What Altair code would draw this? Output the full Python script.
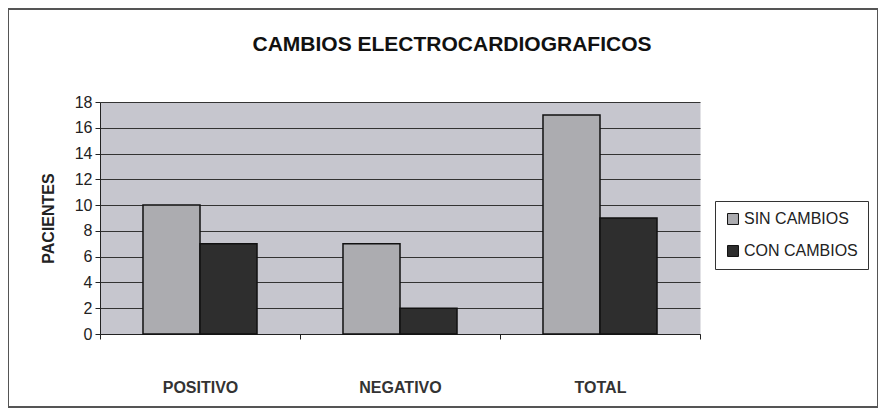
import altair as alt
import pandas as pd

categories = ["POSITIVO", "NEGATIVO", "TOTAL"]
series = ["SIN CAMBIOS", "CON CAMBIOS"]
sin_cambios = [10, 7, 17]
con_cambios = [7, 2, 9]
y_ticks = [0, 2, 4, 6, 8, 10, 12, 14, 16, 18]

rows = []
for c, s, k in zip(categories, sin_cambios, con_cambios):
    rows.append({"grupo": c, "serie": series[0], "pacientes": s})
    rows.append({"grupo": c, "serie": series[1], "pacientes": k})
df = pd.DataFrame(rows)

FONT = "Liberation Sans"

bars = alt.Chart(df).mark_bar(stroke="#111111", strokeWidth=1.5).encode(
    x=alt.X("grupo:N", sort=categories, title=None,
            scale=alt.Scale(paddingInner=0, paddingOuter=0),
            axis=alt.Axis(labelAngle=0, labelFontSize=16, labelFontWeight="bold",
                          labelColor="#333333", labelPadding=40, tickBand="extent",
                          tickSize=5, domainColor="#222222", tickColor="#222222",
                          grid=False)),
    xOffset=alt.XOffset("serie:N", sort=series,
                        scale=alt.Scale(paddingInner=0, paddingOuter=0.754)),
    y=alt.Y("pacientes:Q", title="PACIENTES",
            scale=alt.Scale(domain=[0, 18], nice=False),
            axis=alt.Axis(values=y_ticks, labelFontSize=16, labelColor="#222222",
                          labelPadding=3, tickSize=5, titleFontSize=16,
                          titleFontWeight="bold", titleColor="#222222",
                          titlePadding=18, gridColor="#333333", gridWidth=1,
                          domainColor="#222222", tickColor="#222222")),
    color=alt.Color("serie:N", sort=series, title=None,
                    scale=alt.Scale(domain=series, range=["#acacb0", "#2e2e2e"]),
                    legend=alt.Legend(orient="none", legendX=615, legendY=99,
                                      labelFontSize=16, labelColor="#222222",
                                      symbolType="square", symbolSize=120,
                                      symbolStrokeColor="#111111", symbolStrokeWidth=1,
                                      strokeColor="#333333", fillColor="white",
                                      padding=10, rowPadding=16, labelOffset=3)),
)

border = alt.Chart(df).mark_rect(fill="transparent", stroke="#555555",
                                 strokeWidth=1.5, clip=False).encode(
    x=alt.value(-92), x2=alt.value(778), y=alt.value(-93), y2=alt.value(305)
)

chart = alt.layer(bars, border).properties(
    width=600, height=232,
    title=alt.TitleParams("CAMBIOS ELECTROCARDIOGRAFICOS", fontSize=21,
                          fontWeight="bold", color="#111111", font=FONT,
                          offset=-47, anchor="middle", frame="group", dx=52),
    autosize=alt.AutoSizeParams(type="none"),
    padding={"left": 92, "top": 94, "right": 178, "bottom": 76},
).configure(font=FONT, background="white").configure_view(
    fill="#c6c6ce", strokeOpacity=0
).configure_axis(labelFont=FONT, titleFont=FONT).configure_legend(
    labelFont=FONT
)

chart.save("out.html", embed_options={"renderer": "svg", "actions": False})
